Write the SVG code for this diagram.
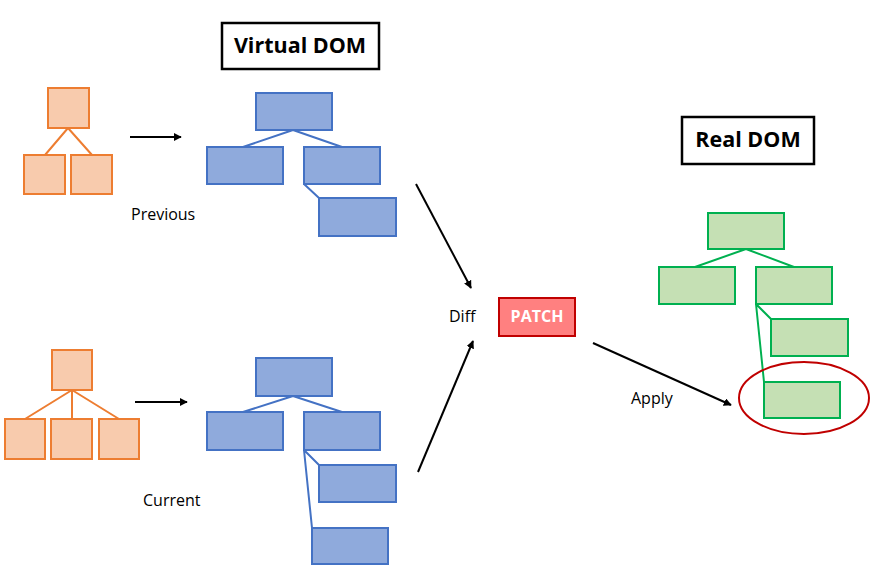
<svg xmlns="http://www.w3.org/2000/svg" width="876" height="580" viewBox="0 0 876 580">
<defs>
<marker id="ah" viewBox="0 0 10 10" refX="9" refY="5" markerWidth="8" markerHeight="8" markerUnits="userSpaceOnUse" orient="auto">
<path d="M0,0 L10,5 L0,10 z" fill="#000"/>
</marker>
<style>
.o{fill:#F8CBAD;stroke:#ED7D31;stroke-width:2}
.b{fill:#8FAADC;stroke:#4472C4;stroke-width:2}
.g{fill:#C5E0B4;stroke:#00B050;stroke-width:2}
.ol{stroke:#ED7D31;stroke-width:2;fill:none}
.bl{stroke:#4472C4;stroke-width:2;fill:none}
.gl{stroke:#00B050;stroke-width:2;fill:none}
.ar{stroke:#000;stroke-width:2;fill:none;marker-end:url(#ah)}
.t{font-family:"Open Sans","Liberation Sans",sans-serif;font-size:16px;fill:#000}
.h{font-family:"Open Sans","Liberation Sans",sans-serif;font-size:21.5px;font-weight:bold;fill:#000;text-anchor:middle}
</style>
</defs>
<rect width="876" height="580" fill="#fff"/>
<g id="connectors">
<path class="ol" d="M68,128 L45,155 M68,128 L92,155"/>
<path class="ol" d="M72,390 L25,419 M72,390 L72,419 M72,390 L119,419"/>
<path class="bl" d="M293,130 L243,147 M293,130 L342,147 M304,184 L319,198"/>
<path class="bl" d="M293,396 L243,412 M293,396 L342,412 M304,450 L319,465 M304,450 L312,528"/>
<path class="gl" d="M746,249 L695,267 M746,249 L794,267 M756,304 L771,319 M756,304 L764,382"/>
<line class="ar" x1="130" y1="137" x2="181" y2="137"/>
<line class="ar" x1="135" y1="402" x2="187" y2="402"/>
<line class="ar" x1="416" y1="184" x2="471" y2="288"/>
<line class="ar" x1="418" y1="472" x2="473" y2="341"/>
<line class="ar" x1="593" y1="343" x2="731" y2="405"/>
</g>
<g id="title-virtual"><rect x="222" y="23" width="157" height="46" fill="#fff" stroke="#000" stroke-width="2.5"/><text class="h" x="300" y="53">Virtual DOM</text></g>
<g id="title-real"><rect x="682" y="117" width="132" height="47" fill="#fff" stroke="#000" stroke-width="2.5"/><text class="h" x="748" y="147">Real DOM</text></g>
<g id="prev-orange">
<rect class="o" x="48" y="88" width="41" height="40"/>
<rect class="o" x="24" y="155" width="41" height="39"/>
<rect class="o" x="71" y="155" width="41" height="39"/>
</g>
<g id="cur-orange">
<rect class="o" x="52" y="350" width="40" height="40"/>
<rect class="o" x="5" y="419" width="40" height="40"/>
<rect class="o" x="51" y="419" width="41" height="40"/>
<rect class="o" x="99" y="419" width="40" height="40"/>
</g>
<g id="prev-blue">
<rect class="b" x="256" y="93" width="76" height="37"/>
<rect class="b" x="207" y="147" width="76" height="37"/>
<rect class="b" x="304" y="147" width="76" height="37"/>
<rect class="b" x="319" y="198" width="77" height="38"/>
</g>
<g id="cur-blue">
<rect class="b" x="256" y="358" width="76" height="38"/>
<rect class="b" x="207" y="412" width="76" height="38"/>
<rect class="b" x="304" y="412" width="76" height="38"/>
<rect class="b" x="319" y="465" width="77" height="37"/>
<rect class="b" x="312" y="528" width="76" height="36"/>
</g>
<g id="real-green">
<rect class="g" x="708" y="213" width="76" height="36"/>
<rect class="g" x="659" y="267" width="76" height="37"/>
<rect class="g" x="756" y="267" width="76" height="37"/>
<rect class="g" x="771" y="319" width="77" height="37"/>
<rect class="g" x="764" y="382" width="76" height="36"/>
<ellipse cx="804" cy="398" rx="65" ry="36" fill="none" stroke="#C00000" stroke-width="2"/>
</g>
<g id="patch"><rect x="499" y="298" width="76" height="38" fill="#FF8080" stroke="#C00000" stroke-width="2"/><text x="537" y="322" font-family="'Open Sans','Liberation Sans',sans-serif" font-size="16" font-weight="bold" fill="#fff" text-anchor="middle">PATCH</text></g>
<g id="labels">
<text class="t" x="131" y="220">Previous</text>
<text class="t" x="143" y="506">Current</text>
<text class="t" x="449" y="322">Diff</text>
<text class="t" x="631" y="404">Apply</text>
</g>
</svg>
